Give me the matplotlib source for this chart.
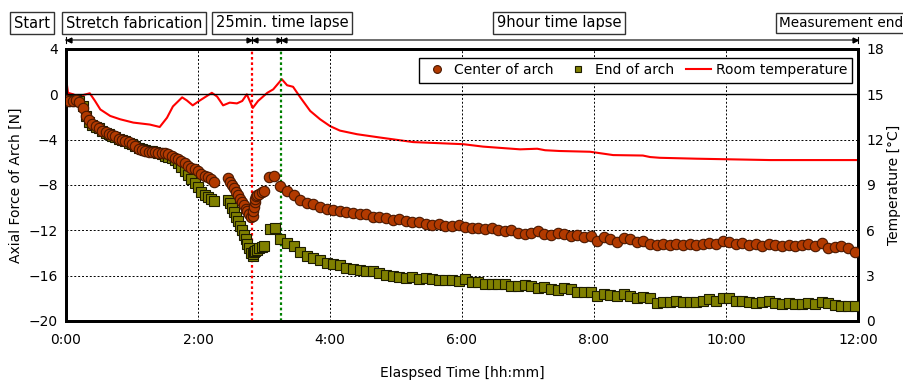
import matplotlib
matplotlib.use("Agg")
import matplotlib.pyplot as plt
from matplotlib.ticker import FuncFormatter, MultipleLocator
import numpy as np

plt.rcParams['font.family'] = ['DejaVu Sans']

# ---------------- data (hours, N, degC) ----------------
center_t = [0.00, 0.05, 0.10, 0.15, 0.20, 0.25, 0.30, 0.35, 0.40, 0.45, 0.50, 0.55, 0.60, 0.65, 0.70,
            0.75, 0.80, 0.85, 0.90, 0.95, 1.00, 1.05, 1.10, 1.15, 1.20, 1.25, 1.30, 1.35, 1.40, 1.45,
            1.50, 1.55, 1.60, 1.65, 1.70, 1.75, 1.80, 1.85, 1.90, 1.95, 2.00, 2.05, 2.10, 2.15, 2.20, 2.25,
            2.45, 2.48, 2.51, 2.54, 2.57, 2.60, 2.63, 2.66, 2.69, 2.72, 2.75, 2.78, 2.81, 2.83, 2.84,
            2.85, 2.86, 2.87, 2.88, 2.90, 2.93, 2.97, 3.00, 3.07, 3.15,
            3.25, 3.35, 3.45, 3.55, 3.65, 3.75, 3.85, 3.95, 4.05, 4.15, 4.25, 4.35, 4.45, 4.55, 4.65,
            4.75, 4.85, 4.95, 5.05, 5.15, 5.25, 5.35, 5.45, 5.55, 5.65, 5.75, 5.85, 5.95, 6.05, 6.15,
            6.25, 6.35, 6.45, 6.55, 6.65, 6.75, 6.85, 6.95, 7.05, 7.15, 7.25, 7.35, 7.45, 7.55, 7.65,
            7.75, 7.85, 7.95, 8.05, 8.15, 8.25, 8.35, 8.45, 8.55, 8.65, 8.75, 8.85, 8.95, 9.05, 9.15,
            9.25, 9.35, 9.45, 9.55, 9.65, 9.75, 9.85, 9.95, 10.05, 10.15, 10.25, 10.35, 10.45, 10.55,
            10.65, 10.75, 10.85, 10.95, 11.05, 11.15, 11.25, 11.35, 11.45, 11.55, 11.65, 11.75, 11.85, 11.95]
center_force = [-0.5, -0.6, -0.6, -0.5, -0.7, -1.2, -1.9, -2.3, -2.6, -2.8, -3.0, -3.2, -3.3, -3.5, -3.6,
                -3.7, -3.9, -4.0, -4.1, -4.2, -4.4, -4.6, -4.8, -4.9, -5.0, -5.1, -5.1, -5.1, -5.2, -5.2,
                -5.2, -5.3, -5.4, -5.6, -5.7, -5.9, -6.1, -6.3, -6.5, -6.6, -6.8, -7.0, -7.2, -7.3, -7.5, -7.7,
                -7.4, -7.7, -8.0, -8.3, -8.6, -8.9, -9.2, -9.5, -9.8, -10.1, -10.3, -10.6, -10.8, -10.7, -10.3,
                -9.9, -9.5, -9.2, -9.0, -8.9, -8.8, -8.6, -8.5, -7.3, -7.2,
                -8.1, -8.5, -8.9, -9.3, -9.6, -9.7, -9.9, -10.1, -10.2, -10.3, -10.4, -10.5, -10.6, -10.6, -10.8,
                -10.8, -10.9, -11.1, -11.0, -11.2, -11.3, -11.3, -11.4, -11.5, -11.4, -11.6, -11.6, -11.5, -11.7, -11.8,
                -11.8, -11.9, -11.8, -12.0, -12.1, -12.0, -12.2, -12.3, -12.2, -12.1, -12.3, -12.4, -12.2, -12.3, -12.5,
                -12.4, -12.6, -12.5, -12.9, -12.6, -12.8, -13.0, -12.7, -12.8, -13.0, -12.9, -13.2, -13.3, -13.2, -13.3,
                -13.2, -13.3, -13.2, -13.3, -13.2, -13.1, -13.2, -12.9, -13.0, -13.2, -13.1, -13.3, -13.2, -13.4,
                -13.2, -13.3, -13.4, -13.3, -13.4, -13.3, -13.2, -13.4, -13.1, -13.6, -13.5, -13.4, -13.6, -13.9]

end_t = [0.00, 0.05, 0.10, 0.15, 0.20, 0.25, 0.30, 0.35, 0.40, 0.45, 0.50, 0.55, 0.60, 0.65, 0.70,
         0.75, 0.80, 0.85, 0.90, 0.95, 1.00, 1.05, 1.10, 1.15, 1.20, 1.25, 1.30, 1.35, 1.40, 1.45,
         1.50, 1.55, 1.60, 1.65, 1.70, 1.75, 1.80, 1.85, 1.90, 1.95, 2.00, 2.05, 2.10, 2.15, 2.20, 2.25,
         2.45, 2.48, 2.51, 2.54, 2.57, 2.60, 2.63, 2.66, 2.69, 2.72, 2.75, 2.78, 2.81, 2.83, 2.84,
         2.85, 2.87, 2.90, 2.93, 2.97, 3.00, 3.09, 3.17,
         3.25, 3.35, 3.45, 3.55, 3.65, 3.75, 3.85, 3.95, 4.05, 4.15, 4.25, 4.35, 4.45, 4.55, 4.65,
         4.75, 4.85, 4.95, 5.05, 5.15, 5.25, 5.35, 5.45, 5.55, 5.65, 5.75, 5.85, 5.95, 6.05, 6.15,
         6.25, 6.35, 6.45, 6.55, 6.65, 6.75, 6.85, 6.95, 7.05, 7.15, 7.25, 7.35, 7.45, 7.55, 7.65,
         7.75, 7.85, 7.95, 8.05, 8.15, 8.25, 8.35, 8.45, 8.55, 8.65, 8.75, 8.85, 8.95, 9.05, 9.15,
         9.25, 9.35, 9.45, 9.55, 9.65, 9.75, 9.85, 9.95, 10.05, 10.15, 10.25, 10.35, 10.45, 10.55,
         10.65, 10.75, 10.85, 10.95, 11.05, 11.15, 11.25, 11.35, 11.45, 11.55, 11.65, 11.75, 11.85, 11.95]
end_force = [-0.5, -0.6, -0.6, -0.5, -0.6, -1.0, -1.9, -2.4, -2.7, -2.9, -3.0, -3.2, -3.4, -3.5, -3.7,
             -3.8, -3.9, -4.0, -4.1, -4.3, -4.4, -4.6, -4.7, -4.8, -4.9, -5.0, -5.0, -5.1, -5.2, -5.3,
             -5.4, -5.5, -5.6, -5.8, -6.1, -6.4, -6.8, -7.1, -7.5, -7.8, -8.2, -8.6, -8.9, -9.1, -9.2, -9.4,
             -9.3, -9.6, -10.0, -10.4, -10.8, -11.2, -11.6, -12.0, -12.4, -12.8, -13.2, -13.6, -14.0, -14.3, -14.1,
             -13.9, -13.8, -13.7, -13.6, -13.5, -13.4, -11.9, -11.8,
             -12.8, -13.1, -13.4, -13.9, -14.3, -14.4, -14.6, -14.9, -15.0, -15.1, -15.3, -15.4, -15.5, -15.6, -15.6,
             -15.8, -15.9, -16.0, -16.1, -16.2, -16.1, -16.3, -16.2, -16.3, -16.4, -16.4, -16.4, -16.5, -16.3, -16.6,
             -16.6, -16.7, -16.7, -16.7, -16.7, -16.9, -16.9, -16.8, -16.9, -17.1, -17.0, -17.2, -17.3, -17.1, -17.2,
             -17.4, -17.4, -17.4, -17.8, -17.6, -17.7, -17.8, -17.6, -17.8, -18.0, -17.9, -18.0, -18.4, -18.3, -18.3,
             -18.2, -18.3, -18.3, -18.3, -18.2, -18.1, -18.2, -18.0, -18.0, -18.2, -18.2, -18.3, -18.4, -18.3,
             -18.2, -18.4, -18.5, -18.4, -18.5, -18.5, -18.4, -18.5, -18.3, -18.4, -18.6, -18.7, -18.7, -18.7]

temp_t = [0.00, 0.03, 0.11, 0.18, 0.24, 0.36, 0.44, 0.52, 0.67, 0.82, 1.02, 1.27, 1.42, 1.53, 1.62,
          1.76, 1.83, 1.92, 2.03, 2.21, 2.29, 2.38, 2.48, 2.59, 2.67, 2.74, 2.83, 2.91, 3.05, 3.14,
          3.27, 3.35, 3.44, 3.55, 3.70, 3.85, 4.00, 4.15, 4.41, 4.76, 5.26, 6.02, 6.32, 6.88, 7.14,
          7.26, 7.48, 7.94, 8.29, 8.74, 8.85, 9.00, 9.56, 10.67, 12.00]
temp_c = [16.1, 15.1, 15.0, 14.85, 14.93, 15.07, 14.56, 14.0, 13.57, 13.35, 13.13, 13.0, 12.84, 13.45, 14.2,
          14.8, 14.6, 14.27, 14.6, 15.1, 14.85, 14.27, 14.45, 14.4, 14.56, 15.0, 14.1, 14.56, 15.1, 15.33,
          16.0, 15.6, 15.5, 14.8, 13.9, 13.35, 12.9, 12.6, 12.36, 12.14, 11.84, 11.7, 11.54, 11.36, 11.4,
          11.3, 11.25, 11.2, 10.98, 10.95, 10.85, 10.8, 10.74, 10.65, 10.65]

phase_lines = [2.82, 3.26]          # end of stretch / end of 25 min lapse
phase_colors = ['red', 'green']
phase_labels = ['Start', 'Stretch fabrication', '25min. time lapse', '9hour time lapse', 'Measurement end']

# ---------------- figure ----------------
fig = plt.figure(figsize=(9.04, 3.8), dpi=100)
ax = fig.add_axes([66/904, 1-321/380, 792/904, 272/380])
ax2 = ax.twinx()

ax.set_xlim(0, 12)
ax.set_ylim(-20, 4)
ax2.set_ylim(0, 18)

ax.xaxis.set_major_locator(MultipleLocator(2))
ax.yaxis.set_major_locator(MultipleLocator(4))
ax2.yaxis.set_major_locator(MultipleLocator(3))
ax.xaxis.set_major_formatter(FuncFormatter(lambda h, p: f"{int(h)}:{int(round((h % 1) * 60)):02d}"))
ax.yaxis.set_major_formatter(FuncFormatter(lambda v, p: f"{int(v)}".replace('-', '\u2212')))
ax2.yaxis.set_major_formatter(FuncFormatter(lambda v, p: f"{int(v)}"))

ax.grid(True, color='black', linestyle=(0, (2, 2)), linewidth=0.7)
ax.axhline(0, color='black', linewidth=1.0, zorder=1)

for s in ax.spines.values():
    s.set_linewidth(2)
for s in ax2.spines.values():
    s.set_linewidth(2)

ax.tick_params(axis='x', length=0, labelsize=10, pad=9)
ax.tick_params(axis='y', length=0, labelsize=10, pad=6)
ax2.tick_params(length=0, labelsize=10, pad=6)

for x, c in zip(phase_lines, phase_colors):
    ax.axvline(x, color=c, linestyle=(0, (1.2, 1.2)), linewidth=1.6, zorder=2)

ax.set_zorder(ax2.get_zorder() + 1)
ax.patch.set_visible(False)

l3, = ax2.plot(temp_t, temp_c, color='#ff0000', linewidth=1.5, label='Room temperature')
l1, = ax.plot(center_t, center_force, linestyle='none', marker='o', markersize=7.5,
              markerfacecolor='#b23a00', markeredgecolor='#4a1800', markeredgewidth=0.8,
              label='Center of arch', zorder=4)
l2, = ax.plot(end_t, end_force, linestyle='none', marker='s', markersize=6.5,
              markerfacecolor='#808000', markeredgecolor='#1c1c00', markeredgewidth=0.8,
              label='End of arch', zorder=3)

leg = ax.legend(handles=[l1, l2, l3], loc='upper right', ncol=3, fontsize=10,
                frameon=True, fancybox=False, edgecolor='black', framealpha=1,
                bbox_to_anchor=(0.993, 0.968), borderaxespad=0, columnspacing=0.9,
                handletextpad=0.3, markerscale=0.75, handlelength=1.8)
leg.get_frame().set_linewidth(1.0)

ax.set_ylabel('Axial Force of Arch [N]', fontsize=10, labelpad=4)
ax2.set_ylabel('Temperature [\u00b0C]', fontsize=10, labelpad=2)
ax.set_xlabel('Elaspsed Time [hh:mm]', fontsize=10, labelpad=13)

# ---------------- top phase bar ----------------
ybar = 1 + 9/272
ax.plot([0, 12], [ybar, ybar], transform=ax.get_xaxis_transform(), color='#555555',
        linewidth=1.2, clip_on=False)
marks = [(0, '<'), (phase_lines[0], '>'), (phase_lines[0], '<'), (phase_lines[1], '>'),
         (phase_lines[1], '<'), (12, '>')]
for x, m in marks:
    off = 0.04 if m == '<' else -0.04
    ax.plot([x + off], [ybar], marker=m, markersize=3.5, color='black',
            transform=ax.get_xaxis_transform(), clip_on=False)
for x in [0, phase_lines[0], phase_lines[1], 12]:
    ax.plot([x, x], [ybar - 0.012, ybar + 0.012], color='black', linewidth=0.8,
            transform=ax.get_xaxis_transform(), clip_on=False)

box = dict(boxstyle='square,pad=0.25', facecolor='white', edgecolor='#333333', linewidth=1.0)
label_pos = [(12/904, 10.5), (64/904, 10.5), (214/904, 10.5), (495/904, 10.5), (777/904, 9.8)]
for (x, fs), txt in zip(label_pos, phase_labels):
    fig.text(x + 2/904, 1 - 23/380, txt, ha='left', va='center', fontsize=fs, bbox=box)

fig.savefig('out.png', dpi=100)
